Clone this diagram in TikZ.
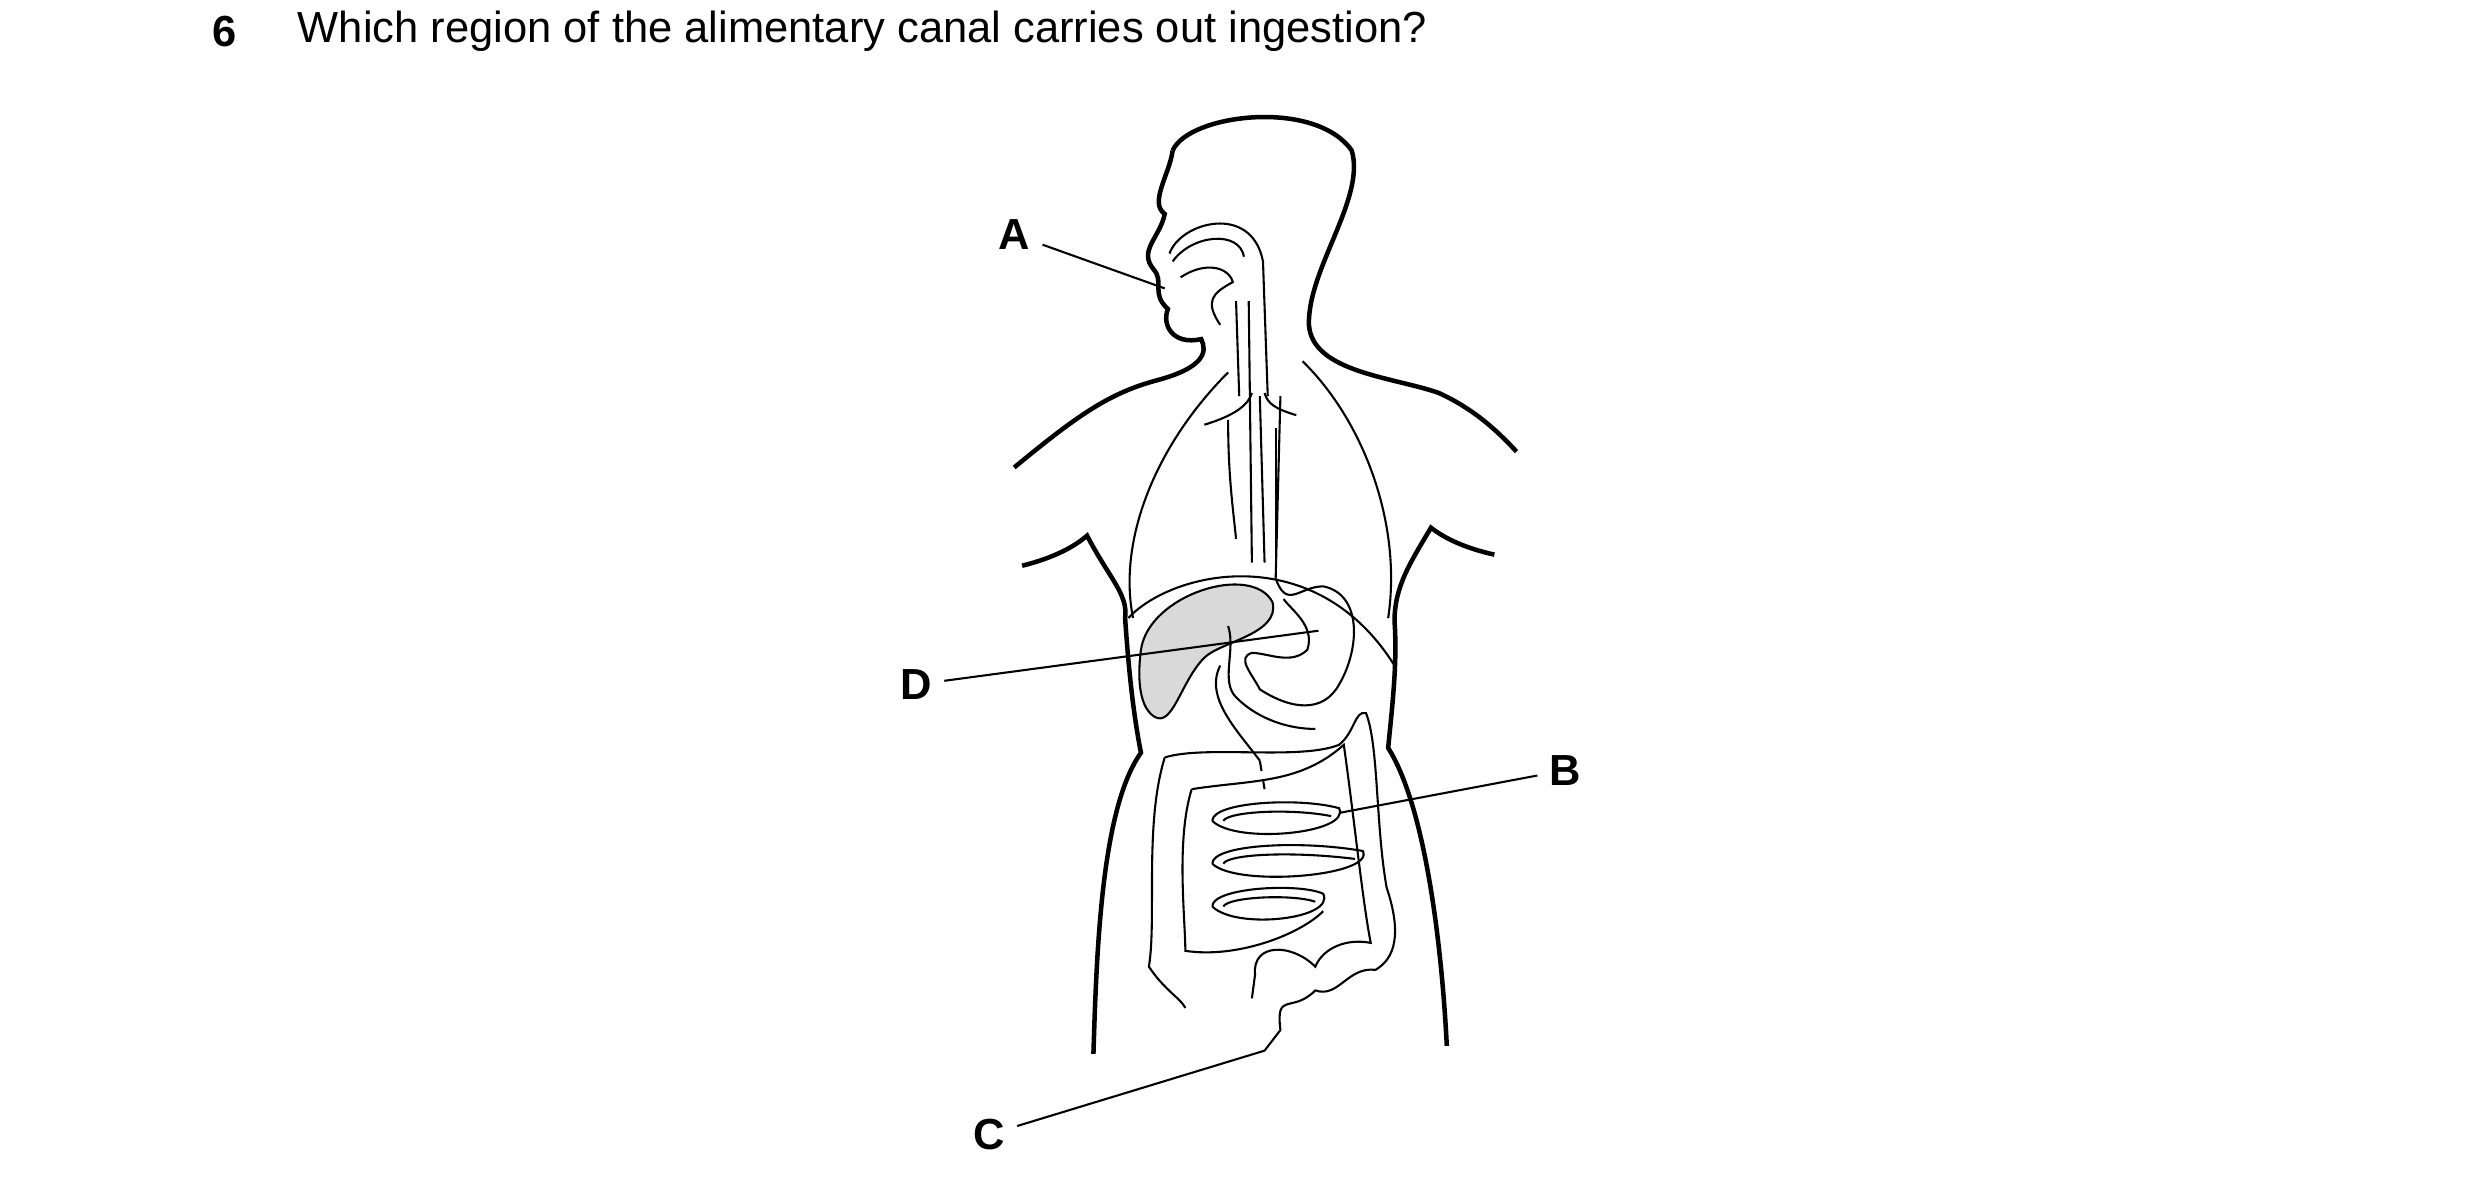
\documentclass[tikz,border=0pt]{standalone}
\usepackage{fontspec}
\setmainfont{Liberation Sans}
\usepackage{tikz}
\begin{document}
\begin{tikzpicture}[x=0.016cm, y=-0.016cm, line width=0.6pt]
    \useasboundingbox (0,0) rectangle (1565,751);
    % question
    \node[anchor=west, font=\bfseries\fontsize{12.5}{15}\selectfont] (num) at (126,20) {6};
    \node[anchor=west, font=\fontsize{12.5}{15}\selectfont] (qtext) at (180,20) {Which region of the alimentary canal carries out ingestion?};

    % body outline
    \draw[line width=1.3pt] (640,295) .. controls (680,262) and (700,248) .. (730,240)
      .. controls (760,232) and (762,222) .. (758,214) .. controls (740,218) and (733,205) .. (737,195)
      .. controls (726,185) and (735,178) .. (728,170) .. controls (718,158) and (732,150) .. (735,135)
      .. controls (725,128) and (738,110) .. (740,95);
    \draw[line width=1.3pt] (740,95) .. controls (750,72) and (830,62) .. (853,95)
      .. controls (862,125) and (825,170) .. (826,205) .. controls (828,235) and (880,238) .. (908,248)
      .. controls (930,258) and (945,272) .. (957,285);
    \draw[line width=1.3pt] (645,357) .. controls (665,352) and (678,345) .. (686,338) .. controls (700,365) and (712,375) .. (710,390)
      .. controls (712,420) and (715,450) .. (720,475) .. controls (695,510) and (692,600) .. (690,665);
    \draw[line width=1.3pt] (943,350) .. controls (925,346) and (912,340) .. (903,333) .. controls (890,355) and (880,370) .. (880,392)
      .. controls (882,420) and (878,450) .. (876,472) .. controls (900,510) and (910,600) .. (913,660);

    % mouth and throat
    \draw (738,160) .. controls (745,140) and (790,128) .. (797,165) -- (800,250);
    \draw (740,165) .. controls (752,148) and (782,145) .. (785,162);
    \draw (745,175) .. controls (760,165) and (775,168) .. (778,178) .. controls (765,185) and (760,190) .. (770,205);
    \draw (788,190) -- (790,355) (780,190) -- (782,250) (808,250) -- (805,365) (795,250) -- (798,355);
    % lungs
    \draw (775,235) .. controls (730,280) and (705,340) .. (715,390);
    \draw (775,265) .. controls (775,300) and (778,320) .. (780,340);
    \draw (822,228) .. controls (860,265) and (885,330) .. (876,390);
    \draw (805,270) -- (805,350);
    \draw (760,268) .. controls (780,262) and (788,255) .. (790,248) (818,262) .. controls (805,258) and (800,255) .. (798,248);
    % diaphragm
    \draw (712,390) .. controls (740,360) and (830,340) .. (880,420);
    % liver
    \draw[fill=black!15] (720,410) .. controls (725,375) and (790,355) .. (803,380)
      .. controls (808,400) and (770,405) .. (760,415) .. controls (745,430) and (740,460) .. (728,452)
      .. controls (718,445) and (718,425) .. (720,410);
    % stomach
    \draw (805,365) .. controls (812,385) and (820,370) .. (835,370) .. controls (860,375) and (858,410) .. (845,432)
      .. controls (835,450) and (815,448) .. (795,435) .. controls (790,425) and (780,415) .. (790,412)
      .. controls (800,412) and (815,420) .. (825,410) .. controls (830,395) and (815,385) .. (810,378);
    \draw (775,395) .. controls (780,410) and (770,430) .. (780,440) .. controls (795,455) and (815,460) .. (830,460);
    \draw (770,420) .. controls (760,440) and (780,460) .. (795,480);
    \draw[dashed] (795,480) -- (798,498);
    % large intestine
    \draw (735,478) .. controls (760,470) and (820,480) .. (845,470) .. controls (855,462) and (855,448) .. (862,450)
      .. controls (870,470) and (868,520) .. (875,560) .. controls (885,590) and (880,605) .. (868,612)
      .. controls (850,610) and (845,630) .. (830,625) .. controls (815,640) and (805,625) .. (808,650) -- (798,663);
    \draw (735,478) .. controls (722,520) and (730,580) .. (725,610) .. controls (735,625) and (745,630) .. (748,636);
    \draw (752,498) .. controls (790,492) and (820,495) .. (848,470) .. controls (855,520) and (860,570) .. (865,595)
      .. controls (850,592) and (835,598) .. (830,610) .. controls (815,595) and (790,595) .. (792,615) -- (790,630);
    \draw (752,498) .. controls (742,530) and (748,580) .. (748,600) .. controls (780,605) and (820,590) .. (835,575);
    % small intestine loops
    \foreach \yy/\w in {518/80, 545/95, 572/70} {
      \draw (765,\yy) .. controls (765,\yy-12) and (820,\yy-15) .. (765+\w,\yy-8)
        .. controls (765+\w+8,\yy+8) and (780,\yy+15) .. (765,\yy);
      \draw (772,\yy) .. controls (775,\yy-6) and (815,\yy-8) .. (760+\w,\yy-3);
    }

    % labels
    \node[font=\bfseries\fontsize{12.5}{15}\selectfont] (labA) at (640,148) {A};
    \node[font=\bfseries\fontsize{12.5}{15}\selectfont] (labD) at (578,432) {D};
    \node[font=\bfseries\fontsize{12.5}{15}\selectfont] (labB) at (988,486) {B};
    \node[font=\bfseries\fontsize{12.5}{15}\selectfont] (labC) at (624,716) {C};
    \coordinate (ptA) at (735,182);
    \coordinate (ptD) at (832,398);
    \coordinate (ptB) at (845,513);
    \coordinate (ptC) at (798,663);
    \draw (labA) -- (ptA);
    \draw (labD) -- (ptD);
    \draw (labB) -- (ptB);
    \draw (labC) -- (ptC);
\end{tikzpicture}
\end{document}
